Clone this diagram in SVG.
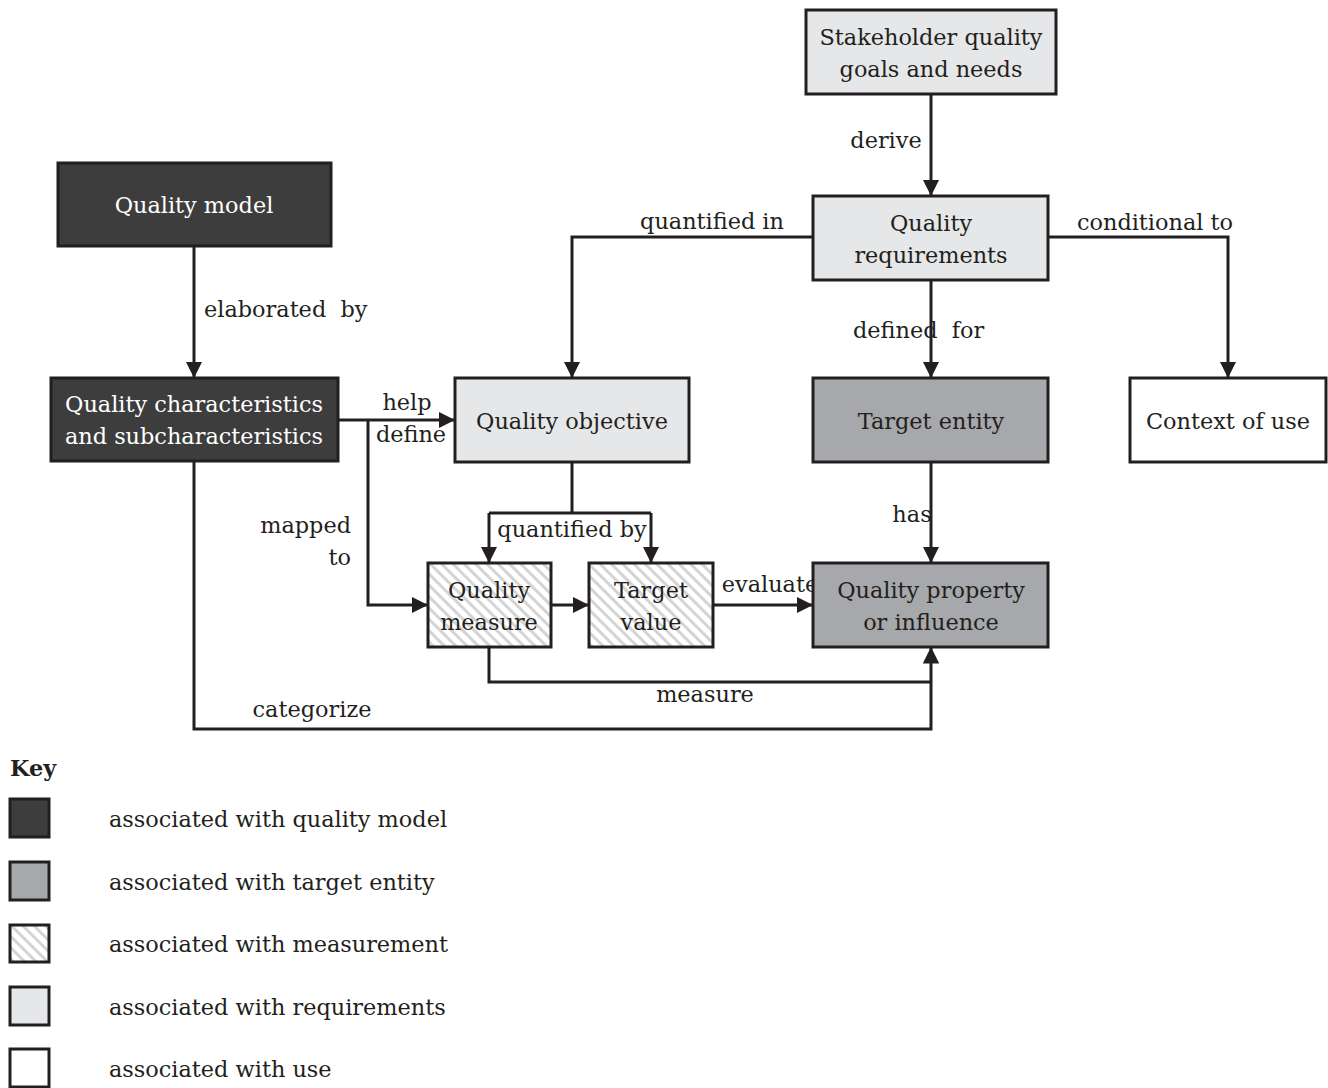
<svg xmlns="http://www.w3.org/2000/svg" width="1328" height="1088" viewBox="0 0 1328 1088">
<style>
.n{stroke:#231f20;stroke-width:3}
.dk{fill:#3d3d3e}
.md{fill:#a7a8ab}
.lt{fill:#e6e7e8}
.wh{fill:#ffffff}
.ht{fill:url(#hatch)}
text{font-family:"DejaVu Serif","Liberation Serif",serif;font-size:22.4px;fill:#231f20}
.c{text-anchor:middle}
.w{fill:#ffffff}
.e{text-anchor:end}
.p{white-space:pre}
.cn{fill:none;stroke:#231f20;stroke-width:3}
</style>
<defs>
<pattern id="hatch" patternUnits="userSpaceOnUse" width="8" height="8" patternTransform="rotate(-45)">
<rect width="8" height="8" fill="#ffffff"/>
<rect width="3" height="8" fill="#d4d4d4"/>
</pattern>
<marker id="ah" viewBox="0 0 10 10" refX="10" refY="5" markerWidth="5.5" markerHeight="5.5" markerUnits="strokeWidth" orient="auto">
<path d="M0,0 L10,5 L0,10 z" fill="#231f20"/>
</marker>
</defs>
<rect width="1328" height="1088" fill="#ffffff"/>
<g id="connectors">
<path class="cn" d="M931,94 V196" marker-end="url(#ah)"/>
<path class="cn" d="M194,246 V378" marker-end="url(#ah)"/>
<path class="cn" d="M813,237 H572 V378" marker-end="url(#ah)"/>
<path class="cn" d="M1048,237 H1228 V378" marker-end="url(#ah)"/>
<path class="cn" d="M931,280 V378" marker-end="url(#ah)"/>
<path class="cn" d="M931,462 V563" marker-end="url(#ah)"/>
<path class="cn" d="M338,420 H455" marker-end="url(#ah)"/>
<path class="cn" d="M368,420 V605 H428" marker-end="url(#ah)"/>
<path class="cn" d="M572,462 V513"/>
<path class="cn" d="M489,513 H651"/>
<path class="cn" d="M489,513 V563" marker-end="url(#ah)"/>
<path class="cn" d="M651,513 V563" marker-end="url(#ah)"/>
<path class="cn" d="M551,605 H589" marker-end="url(#ah)"/>
<path class="cn" d="M713,605 H813" marker-end="url(#ah)"/>
<path class="cn" d="M489,647 V682 H931"/>
<path class="cn" d="M194,461 V729 H931 V647" marker-end="url(#ah)"/>
<text x="886" y="148" class="c">derive</text>
<text x="204" y="317" class="p">elaborated  by</text>
<text x="712" y="229" class="c">quantified in</text>
<text x="1155" y="230" class="c">conditional to</text>
<text x="853" y="338" class="p">defined  for</text>
<text x="407" y="410" class="c">help</text>
<text x="411" y="442" class="c">define</text>
<text x="351" y="533" class="e">mapped</text>
<text x="351" y="565" class="e">to</text>
<text x="572" y="537" class="c">quantified by</text>
<text x="770" y="592" class="c">evaluate</text>
<text x="912" y="522" class="c">has</text>
<text x="705" y="702" class="c">measure</text>
<text x="312" y="717" class="c">categorize</text>
</g>
<g id="stakeholder">
<rect x="806" y="10" width="250" height="84" class="n lt"/>
<text x="931" y="45" class="c">Stakeholder quality</text>
<text x="931" y="77" class="c">goals and needs</text>
</g>
<g id="quality-model">
<rect x="58" y="163" width="273" height="83" class="n dk"/>
<text x="194" y="213" class="c w">Quality model</text>
</g>
<g id="quality-requirements">
<rect x="813" y="196" width="235" height="84" class="n lt"/>
<text x="931" y="231" class="c">Quality</text>
<text x="931" y="263" class="c">requirements</text>
</g>
<g id="quality-characteristics">
<rect x="51" y="378" width="287" height="83" class="n dk"/>
<text x="194" y="412" class="c w">Quality characteristics</text>
<text x="194" y="444" class="c w">and subcharacteristics</text>
</g>
<g id="quality-objective">
<rect x="455" y="378" width="234" height="84" class="n lt"/>
<text x="572" y="429" class="c">Quality objective</text>
</g>
<g id="target-entity">
<rect x="813" y="378" width="235" height="84" class="n md"/>
<text x="931" y="429" class="c">Target entity</text>
</g>
<g id="context-of-use">
<rect x="1130" y="378" width="196" height="84" class="n wh"/>
<text x="1228" y="429" class="c">Context of use</text>
</g>
<g id="quality-measure">
<rect x="428" y="563" width="123" height="84" class="n ht"/>
<text x="489" y="598" class="c">Quality</text>
<text x="489" y="630" class="c">measure</text>
</g>
<g id="target-value">
<rect x="589" y="563" width="124" height="84" class="n ht"/>
<text x="651" y="598" class="c">Target</text>
<text x="651" y="630" class="c">value</text>
</g>
<g id="quality-property">
<rect x="813" y="563" width="235" height="84" class="n md"/>
<text x="931" y="598" class="c">Quality property</text>
<text x="931" y="630" class="c">or influence</text>
</g>
<g id="key">
<text x="10" y="776" style="font-weight:bold">Key</text>
<rect x="10" y="799" width="39" height="38" class="n dk"/>
<rect x="10" y="862" width="39" height="38" class="n md"/>
<rect x="10" y="925" width="39" height="37" class="n ht"/>
<rect x="10" y="987" width="39" height="38" class="n lt"/>
<rect x="10" y="1049" width="39" height="38" class="n wh"/>
<text x="109" y="827">associated with quality model</text>
<text x="109" y="890">associated with target entity</text>
<text x="109" y="952">associated with measurement</text>
<text x="109" y="1015">associated with requirements</text>
<text x="109" y="1077">associated with use</text>
</g>
</svg>
